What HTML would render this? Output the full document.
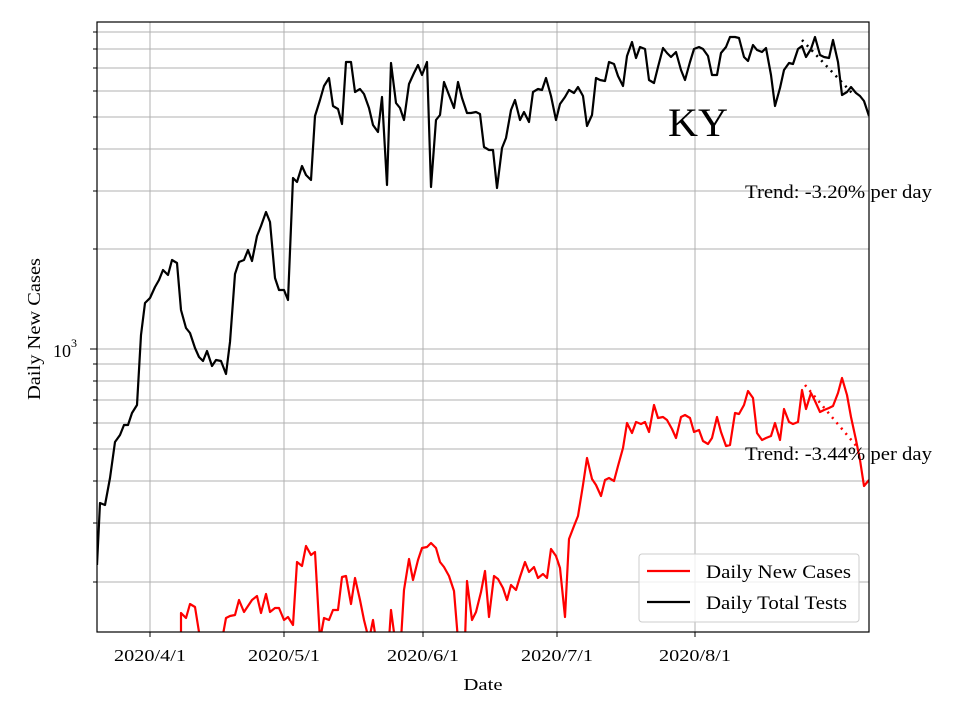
<!DOCTYPE html>
<html><head><meta charset="utf-8"><style>
html,body{margin:0;padding:0;background:#fff;}
svg{display:block;font-family:"Liberation Serif",serif;}
</style></head><body>
<svg width="960" height="720" viewBox="0 0 960 720" xmlns="http://www.w3.org/2000/svg">
<defs><clipPath id="c"><rect x="97" y="22" width="772" height="610"/></clipPath></defs>
<rect width="960" height="720" fill="#fff"/>
<g stroke="#b0b0b0" stroke-width="1">
<line x1="150" y1="22" x2="150" y2="632"/><line x1="284" y1="22" x2="284" y2="632"/><line x1="423" y1="22" x2="423" y2="632"/><line x1="557" y1="22" x2="557" y2="632"/><line x1="695" y1="22" x2="695" y2="632"/>
<line x1="97" y1="582" x2="869" y2="582"/><line x1="97" y1="523" x2="869" y2="523"/><line x1="97" y1="481" x2="869" y2="481"/><line x1="97" y1="449" x2="869" y2="449"/><line x1="97" y1="423" x2="869" y2="423"/><line x1="97" y1="400" x2="869" y2="400"/><line x1="97" y1="381" x2="869" y2="381"/><line x1="97" y1="364" x2="869" y2="364"/><line x1="97" y1="349" x2="869" y2="349"/><line x1="97" y1="249" x2="869" y2="249"/><line x1="97" y1="191" x2="869" y2="191"/><line x1="97" y1="149" x2="869" y2="149"/><line x1="97" y1="117" x2="869" y2="117"/><line x1="97" y1="91" x2="869" y2="91"/><line x1="97" y1="68" x2="869" y2="68"/><line x1="97" y1="49" x2="869" y2="49"/><line x1="97" y1="32" x2="869" y2="32"/>
</g>
<g clip-path="url(#c)" fill="none" stroke-width="2.2" stroke-linejoin="round">
<polyline stroke="#000" points="97,565 100,503 105,505 110,478 115,442 120,435 124,425 128,425 132,413 137,405 141,335 145,303 150,298 155,287 159,280 163,270 168,275 172,260 177,263 181,310 186,328 190,333 195,348 199,357 203,361 207,351 212,366 216,360 221,361 226,374 230,342 235,274 239,262 244,260 248,250 252,261 257,236 261,226 266,212 270,222 275,278 279,290 284,290 288,300 293,178 297,182 302,166 306,175 311,180 315,116 320,100 324,86 329,78 333,106 338,109 342,124 346,62 351,62 355,92 360,89 364,94 369,108 373,125 378,132 382,97 387,185 391,63 396,103 400,108 404,120 409,84 414,73 418,65 422,75 427,62 431,187 436,120 440,115 444,82 449,95 454,108 458,82 462,98 467,113 471,113 476,112 480,114 484,147 489,150 493,150 497,188 502,148 506,138 511,110 515,100 520,120 524,112 529,122 533,92 538,89 542,90 546,78 551,96 556,120 560,104 565,97 569,90 574,93 578,87 583,96 587,126 592,115 596,78 600,80 605,81 609,62 614,64 618,76 623,86 627,56 632,42 636,58 640,47 645,49 649,80 654,83 658,67 663,48 667,53 671,57 676,52 681,70 685,80 690,62 694,49 699,47 703,49 708,56 712,75 717,75 721,53 726,47 730,37 735,37 739,38 744,57 748,61 753,45 757,50 762,52 766,48 771,75 775,106 780,88 784,70 789,63 793,64 798,49 802,46 806,57 811,49 815,37 820,55 824,57 829,58 833,40 838,62 842,95 847,92 851,87 856,93 860,96 864,101 869,116"/>
<polyline stroke="#f00" points="181,640 181,613 186,618 190,604 195,607 199,632 201,640"/>
<polyline stroke="#f00" points="222,640 226,618 230,616 235,615 239,600 244,612 248,606 252,600 257,596 261,613 266,594 270,612 275,608 279,608 284,620 288,617 293,625 297,562 302,566 306,546 311,555 315,552 320,640 324,618 329,620 333,610 338,610 342,577 346,576 351,604 355,578 360,600 364,620 369,640 373,620 376,640"/>
<polyline stroke="#f00" points="389,640 391,610 395,640"/>
<polyline stroke="#f00" points="401,640 404,590 409,559 413,580 418,560 422,548 427,547 431,543 436,548 440,562 444,567 449,576 454,591 458,640"/>
<polyline stroke="#f00" points="465,640 467,581 472,620 476,612 481,592 485,571 489,617 494,576 498,579 503,588 507,600 511,585 516,590 520,577 525,562 529,572 534,567 538,578 543,574 547,578 551,549 556,556 560,568 565,617 569,539 574,526 578,516 583,485 587,458 592,479 596,485 601,496 605,480 609,478 614,481 618,466 623,448 627,423 632,433 636,422 641,424 645,422 649,432 654,405 658,418 663,417 667,420 672,429 676,438 681,417 685,415 690,418 694,432 699,430 703,441 708,444 712,438 717,417 721,432 726,446 730,445 735,413 739,414 744,405 748,391 753,398 757,433 762,440 766,438 771,436 775,423 780,440 784,409 789,422 793,424 798,422 802,390 806,409 811,393 815,401 820,412 824,410 829,408 833,406 838,393 842,378 847,395 851,417 856,440 860,460 864,486 869,480"/>
<line x1="802" y1="40" x2="852" y2="93" stroke="#000" stroke-dasharray="2,5" stroke-width="2.5"/>
<line x1="805" y1="385" x2="858" y2="448" stroke="#f00" stroke-dasharray="2,5" stroke-width="2.5"/>
</g>
<rect x="97" y="22" width="772" height="610" fill="none" stroke="#000" stroke-width="1.2"/>
<g stroke="#000" stroke-width="1">
<line x1="150" y1="632" x2="150" y2="637"/><line x1="284" y1="632" x2="284" y2="637"/><line x1="423" y1="632" x2="423" y2="637"/><line x1="557" y1="632" x2="557" y2="637"/><line x1="695" y1="632" x2="695" y2="637"/>
<line x1="90" y1="349" x2="97" y2="349"/>
<line x1="93" y1="582" x2="97" y2="582"/><line x1="93" y1="523" x2="97" y2="523"/><line x1="93" y1="481" x2="97" y2="481"/><line x1="93" y1="449" x2="97" y2="449"/><line x1="93" y1="423" x2="97" y2="423"/><line x1="93" y1="400" x2="97" y2="400"/><line x1="93" y1="381" x2="97" y2="381"/><line x1="93" y1="364" x2="97" y2="364"/><line x1="93" y1="249" x2="97" y2="249"/><line x1="93" y1="191" x2="97" y2="191"/><line x1="93" y1="149" x2="97" y2="149"/><line x1="93" y1="117" x2="97" y2="117"/><line x1="93" y1="91" x2="97" y2="91"/><line x1="93" y1="68" x2="97" y2="68"/><line x1="93" y1="49" x2="97" y2="49"/><line x1="93" y1="32" x2="97" y2="32"/>
</g>
<g font-size="17" text-anchor="middle" fill="#000">
<text x="150" y="661" textLength="72" lengthAdjust="spacingAndGlyphs">2020/4/1</text><text x="284" y="661" textLength="72" lengthAdjust="spacingAndGlyphs">2020/5/1</text><text x="423" y="661" textLength="72" lengthAdjust="spacingAndGlyphs">2020/6/1</text><text x="557" y="661" textLength="72" lengthAdjust="spacingAndGlyphs">2020/7/1</text><text x="695" y="661" textLength="72" lengthAdjust="spacingAndGlyphs">2020/8/1</text>
<text x="483" y="690" textLength="39" lengthAdjust="spacingAndGlyphs">Date</text>
</g>
<text x="53" y="357" font-size="18">10</text><text x="71" y="347" font-size="12">3</text>
<text x="40" y="329" font-size="18" text-anchor="middle" transform="rotate(-90 40 329)" textLength="142" lengthAdjust="spacingAndGlyphs">Daily New Cases</text>
<text x="668" y="136" font-size="40" textLength="60" lengthAdjust="spacingAndGlyphs">KY</text>
<text x="745" y="198" font-size="19" textLength="187" lengthAdjust="spacingAndGlyphs">Trend: -3.20% per day</text>
<text x="745" y="460" font-size="19" textLength="187" lengthAdjust="spacingAndGlyphs">Trend: -3.44% per day</text>
<rect x="639" y="554" width="220" height="68" rx="3" fill="#fff" fill-opacity="0.8" stroke="#ccc" stroke-width="1"/>
<line x1="647" y1="571" x2="690" y2="571" stroke="#f00" stroke-width="2.2"/>
<line x1="647" y1="602" x2="690" y2="602" stroke="#000" stroke-width="2.2"/>
<text x="706" y="578" font-size="19" textLength="145" lengthAdjust="spacingAndGlyphs">Daily New Cases</text>
<text x="706" y="609" font-size="19" textLength="141" lengthAdjust="spacingAndGlyphs">Daily Total Tests</text>
</svg>
</body></html>
